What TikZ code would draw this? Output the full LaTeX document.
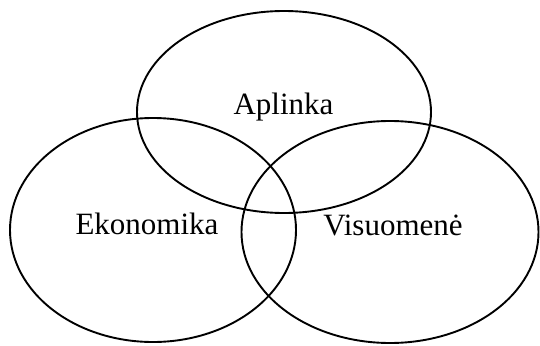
\documentclass[tikz,border=0pt]{standalone}
\usepackage{fontspec}
\setmainfont{Liberation Serif}
\usetikzlibrary{shapes.geometric}
\begin{document}
\begin{tikzpicture}[x=1pt,y=-1pt,
  circ/.style={ellipse,draw=black,line width=1.9pt,inner sep=0pt,fill=none},
  lbl/.style={font=\fontsize{31}{36}\selectfont,anchor=base,inner sep=0pt}]
\useasboundingbox (0,0) rectangle (540,345);
\node[circ,minimum width=294pt,minimum height=202pt] (top) at (284,112) {};
\node[circ,minimum width=286pt,minimum height=224pt] (left) at (153,230) {};
\node[circ,minimum width=297pt,minimum height=222pt] (right) at (390,232) {};
\node[lbl] (aplinka) at (283.5,114) {Aplinka};
\node[lbl] (ekonomika) at (147,234) {Ekonomika};
\node[lbl] (visuomene) at (393,235) {Visuomenė};
\end{tikzpicture}
\end{document}
